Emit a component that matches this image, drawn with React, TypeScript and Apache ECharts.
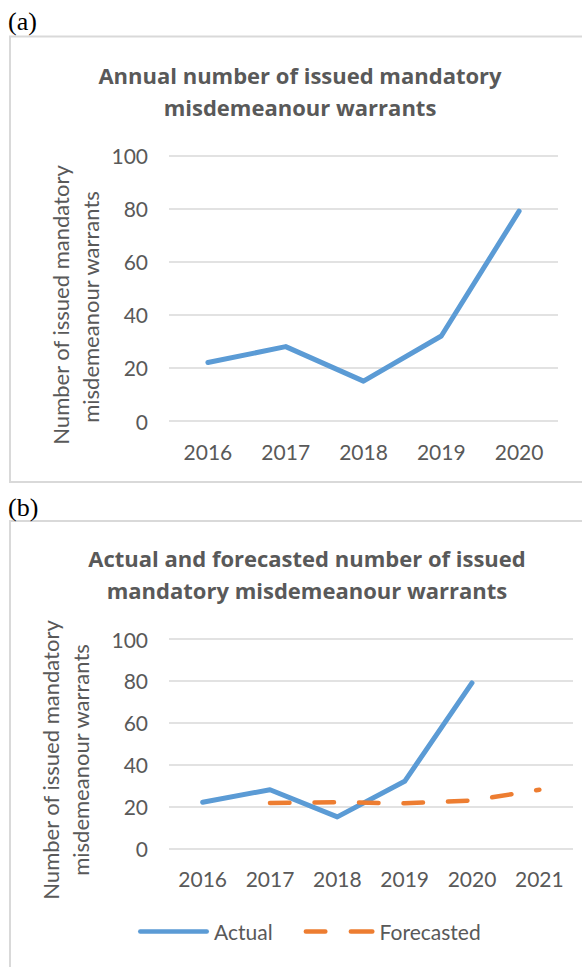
import React, { useEffect, useRef } from "react";
import * as echarts from "echarts";

const yearsA = ["2016", "2017", "2018", "2019", "2020"];
const actualA = [22, 28, 15, 32, 79];

const yearsB = ["2016", "2017", "2018", "2019", "2020", "2021"];
const actualB = [22, 28, 15, 32, 79, null];
const forecastB = [null, 21.7, 22, 21.5, 22.8, 28];

const titleA = ["Annual number of issued mandatory", "misdemeanour warrants"];
const titleB = ["Actual and forecasted number of issued", "mandatory misdemeanour warrants"];
const yName = ["Number of issued mandatory", "misdemeanour warrants"];

const FONT = "Lato, 'Open Sans', sans-serif";
const TFONT = "'Open Sans', Lato, sans-serif";
const TXT = "#595959";
const GRID = "#d9d9d9";
const BLUE = "#5b9bd5";
const ORANGE = "#ed7d31";

const solidIcon =
  "path://M2.25,0H68.75A2.25,2.25,0,0,1,68.75,4.5H2.25A2.25,2.25,0,0,1,2.25,0Z";
const dashIcon =
  "path://M2.25,0H21.75A2.25,2.25,0,0,1,21.75,4.5H2.25A2.25,2.25,0,0,1,2.25,0Z" +
  "M47.25,0H68.75A2.25,2.25,0,0,1,68.75,4.5H47.25A2.25,2.25,0,0,1,47.25,0Z";

export default function App() {
  const ref = useRef<HTMLDivElement>(null);
  useEffect(() => {
    if (!ref.current) return;
    const chart = echarts.init(ref.current, null, { renderer: "svg" });
    const yAxisBase = (gi: number) => ({
      type: "value",
      gridIndex: gi,
      min: 0,
      max: 100,
      interval: 20,
      axisLine: { show: false },
      axisTick: { show: false },
      splitLine: { lineStyle: { color: GRID, width: 1.5 } },
      axisLabel: { color: TXT, fontSize: 21, fontFamily: FONT, margin: 21 },
    });
    const xAxisBase = (gi: number, data: string[]) => ({
      type: "category",
      gridIndex: gi,
      data,
      boundaryGap: true,
      axisLine: { show: false },
      axisTick: { show: false },
      axisLabel: { color: TXT, fontSize: 21, fontFamily: FONT, margin: 20 },
    });
    const titleText = (x: number, y: number, text: string) => ({
      type: "text",
      x,
      y,
      style: {
        text,
        fill: TXT,
        font: `bold 22px ${TFONT}`,
        textAlign: "center",
        textVerticalAlign: "middle",
      },
    });
    const nameText = (x: number, y: number, text: string) => ({
      type: "text",
      x,
      y,
      rotation: Math.PI / 2,
      style: {
        text,
        fill: TXT,
        font: `22px ${FONT}`,
        textAlign: "center",
        textVerticalAlign: "middle",
      },
    });
    chart.setOption({
      animation: false,
      backgroundColor: "#ffffff",
      grid: [
        { left: 169, top: 155.3, width: 389, height: 265.7, outerBoundsMode: "none" },
        { left: 169, top: 639, width: 404, height: 209.3, outerBoundsMode: "none" },
      ],
      xAxis: [xAxisBase(0, yearsA), xAxisBase(1, yearsB)],
      yAxis: [yAxisBase(0), yAxisBase(1)],
      legend: {
        data: [
          { name: "Actual", icon: solidIcon, itemStyle: { color: BLUE } },
          { name: "Forecasted", icon: dashIcon, itemStyle: { color: ORANGE } },
        ],
        left: 133,
        top: 916,
        itemWidth: 71,
        itemHeight: 4.5,
        itemGap: 31,
        textStyle: { color: TXT, fontSize: 21, fontFamily: FONT },
      },
      graphic: [
        {
          type: "rect",
          shape: { x: 10, y: 36.5, width: 600, height: 445.5 },
          style: { fill: "none", stroke: GRID, lineWidth: 2 },
          z: -1,
        },
        {
          type: "rect",
          shape: { x: 10, y: 521, width: 600, height: 500 },
          style: { fill: "none", stroke: GRID, lineWidth: 2 },
          z: -1,
        },
        {
          type: "text",
          x: 8,
          y: 21,
          style: {
            text: "(a)",
            fill: "#000",
            font: "26px 'Liberation Serif', serif",
            textVerticalAlign: "middle",
          },
        },
        {
          type: "text",
          x: 8,
          y: 507,
          style: {
            text: "(b)",
            fill: "#000",
            font: "26px 'Liberation Serif', serif",
            textVerticalAlign: "middle",
          },
        },
        titleText(300, 75, titleA[0]),
        titleText(300, 107, titleA[1]),
        titleText(307, 558, titleB[0]),
        titleText(307, 590, titleB[1]),
        nameText(60, 305, yName[0]),
        nameText(90, 307, yName[1]),
        nameText(50, 760, yName[0]),
        nameText(80, 760, yName[1]),
      ],
      series: [
        {
          name: "ActualA",
          type: "line",
          xAxisIndex: 0,
          yAxisIndex: 0,
          data: actualA,
          symbol: "none",
          lineStyle: { color: BLUE, width: 5, cap: "round", join: "round" },
          itemStyle: { color: BLUE },
        },
        {
          name: "Actual",
          type: "line",
          xAxisIndex: 1,
          yAxisIndex: 1,
          data: actualB,
          symbol: "none",
          lineStyle: { color: BLUE, width: 5, cap: "round", join: "round" },
          itemStyle: { color: BLUE },
        },
        {
          name: "Forecasted",
          type: "line",
          xAxisIndex: 1,
          yAxisIndex: 1,
          data: forecastB,
          symbol: "none",
          lineStyle: { color: ORANGE, width: 4.5, type: [19.5, 25], cap: "round", join: "round" },
          itemStyle: { color: ORANGE },
        },
      ],
    });
    return () => chart.dispose();
  }, []);
  return (
    <div
      ref={ref}
      style={{ position: "absolute", left: 0, top: 0, width: 582, height: 967 }}
    />
  );
}
